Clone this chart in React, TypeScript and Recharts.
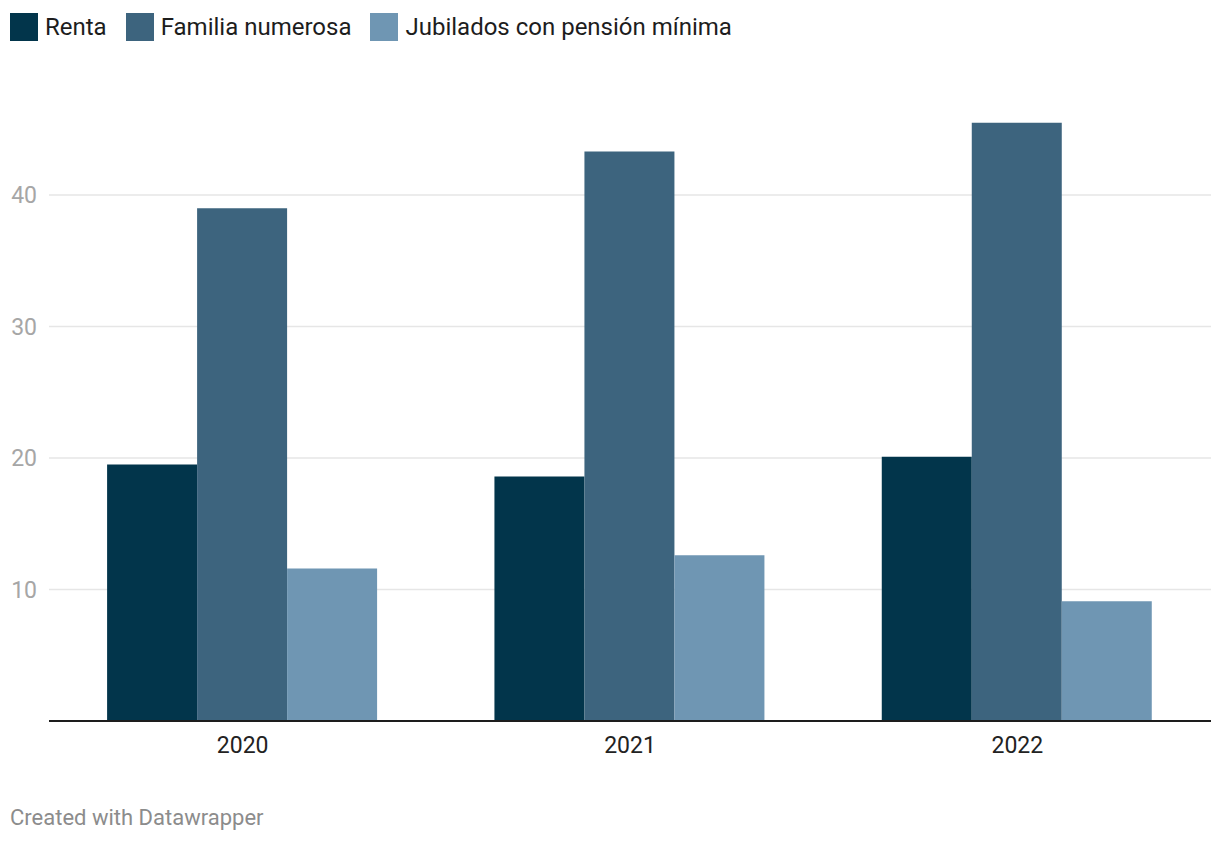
import { BarChart, Bar, XAxis, YAxis, CartesianGrid } from "recharts";

const years = ["2020", "2021", "2022"];
const renta = [19.5, 18.6, 20.1];
const familia = [39.0, 43.3, 45.5];
const jubilados = [11.6, 12.6, 9.1];
const yTicks = [10, 20, 30, 40];

const series = [
  { key: "renta", name: "Renta", color: "#02354b" },
  { key: "familia", name: "Familia numerosa", color: "#3d647e" },
  { key: "jubilados", name: "Jubilados con pensión mínima", color: "#6f96b3" },
];

const data = years.map((year, i) => ({
  year,
  renta: renta[i],
  familia: familia[i],
  jubilados: jubilados[i],
}));

const font = "Roboto, 'Noto Sans', sans-serif";

export default function App() {
  return (
    <div
      style={{
        position: "absolute",
        left: 0,
        top: 0,
        width: 1220,
        height: 844,
        background: "#fff",
        fontFamily: font,
      }}
    >
      <div style={{ position: "absolute", left: 10, top: 13, display: "flex", alignItems: "center" }}>
        {series.map((s) => (
          <div key={s.key} style={{ display: "flex", alignItems: "center", marginRight: 19 }}>
            <span style={{ width: 28, height: 28, background: s.color, display: "inline-block" }} />
            <span style={{ marginLeft: 7, fontSize: 24, color: "#1d1d1d", lineHeight: "28px" }}>
              {s.name}
            </span>
          </div>
        ))}
      </div>
      <div style={{ position: "absolute", left: 0, top: 0 }}>
        <BarChart
          width={1220}
          height={770}
          data={data}
          margin={{ top: 63.5, right: 9, bottom: 0, left: 0 }}
          barCategoryGap="15%"
          barGap={0}
        >
          <CartesianGrid vertical={false} stroke="#e6e6e6" strokeWidth={1.5} horizontalValues={yTicks} />
          <YAxis
            domain={[0, 50]}
            ticks={yTicks}
            axisLine={false}
            tickLine={false}
            tickSize={0}
            tickMargin={12}
            width={49}
            tick={{ fill: "#a6a6a6", fontSize: 23, fontFamily: font }}
          />
          <XAxis
            dataKey="year"
            height={49}
            axisLine={{ stroke: "#1d1d1d", strokeWidth: 2 }}
            tickLine={false}
            tickSize={0}
            tickMargin={16}
            tick={{ fill: "#222222", fontSize: 23, fontFamily: font }}
          />
          {series.map((s) => (
            <Bar key={s.key} dataKey={s.key} name={s.name} fill={s.color} isAnimationActive={false} />
          ))}
        </BarChart>
      </div>
      <div style={{ position: "absolute", left: 10, top: 805, fontSize: 22, color: "#8c8c8c" }}>
        Created with Datawrapper
      </div>
    </div>
  );
}
